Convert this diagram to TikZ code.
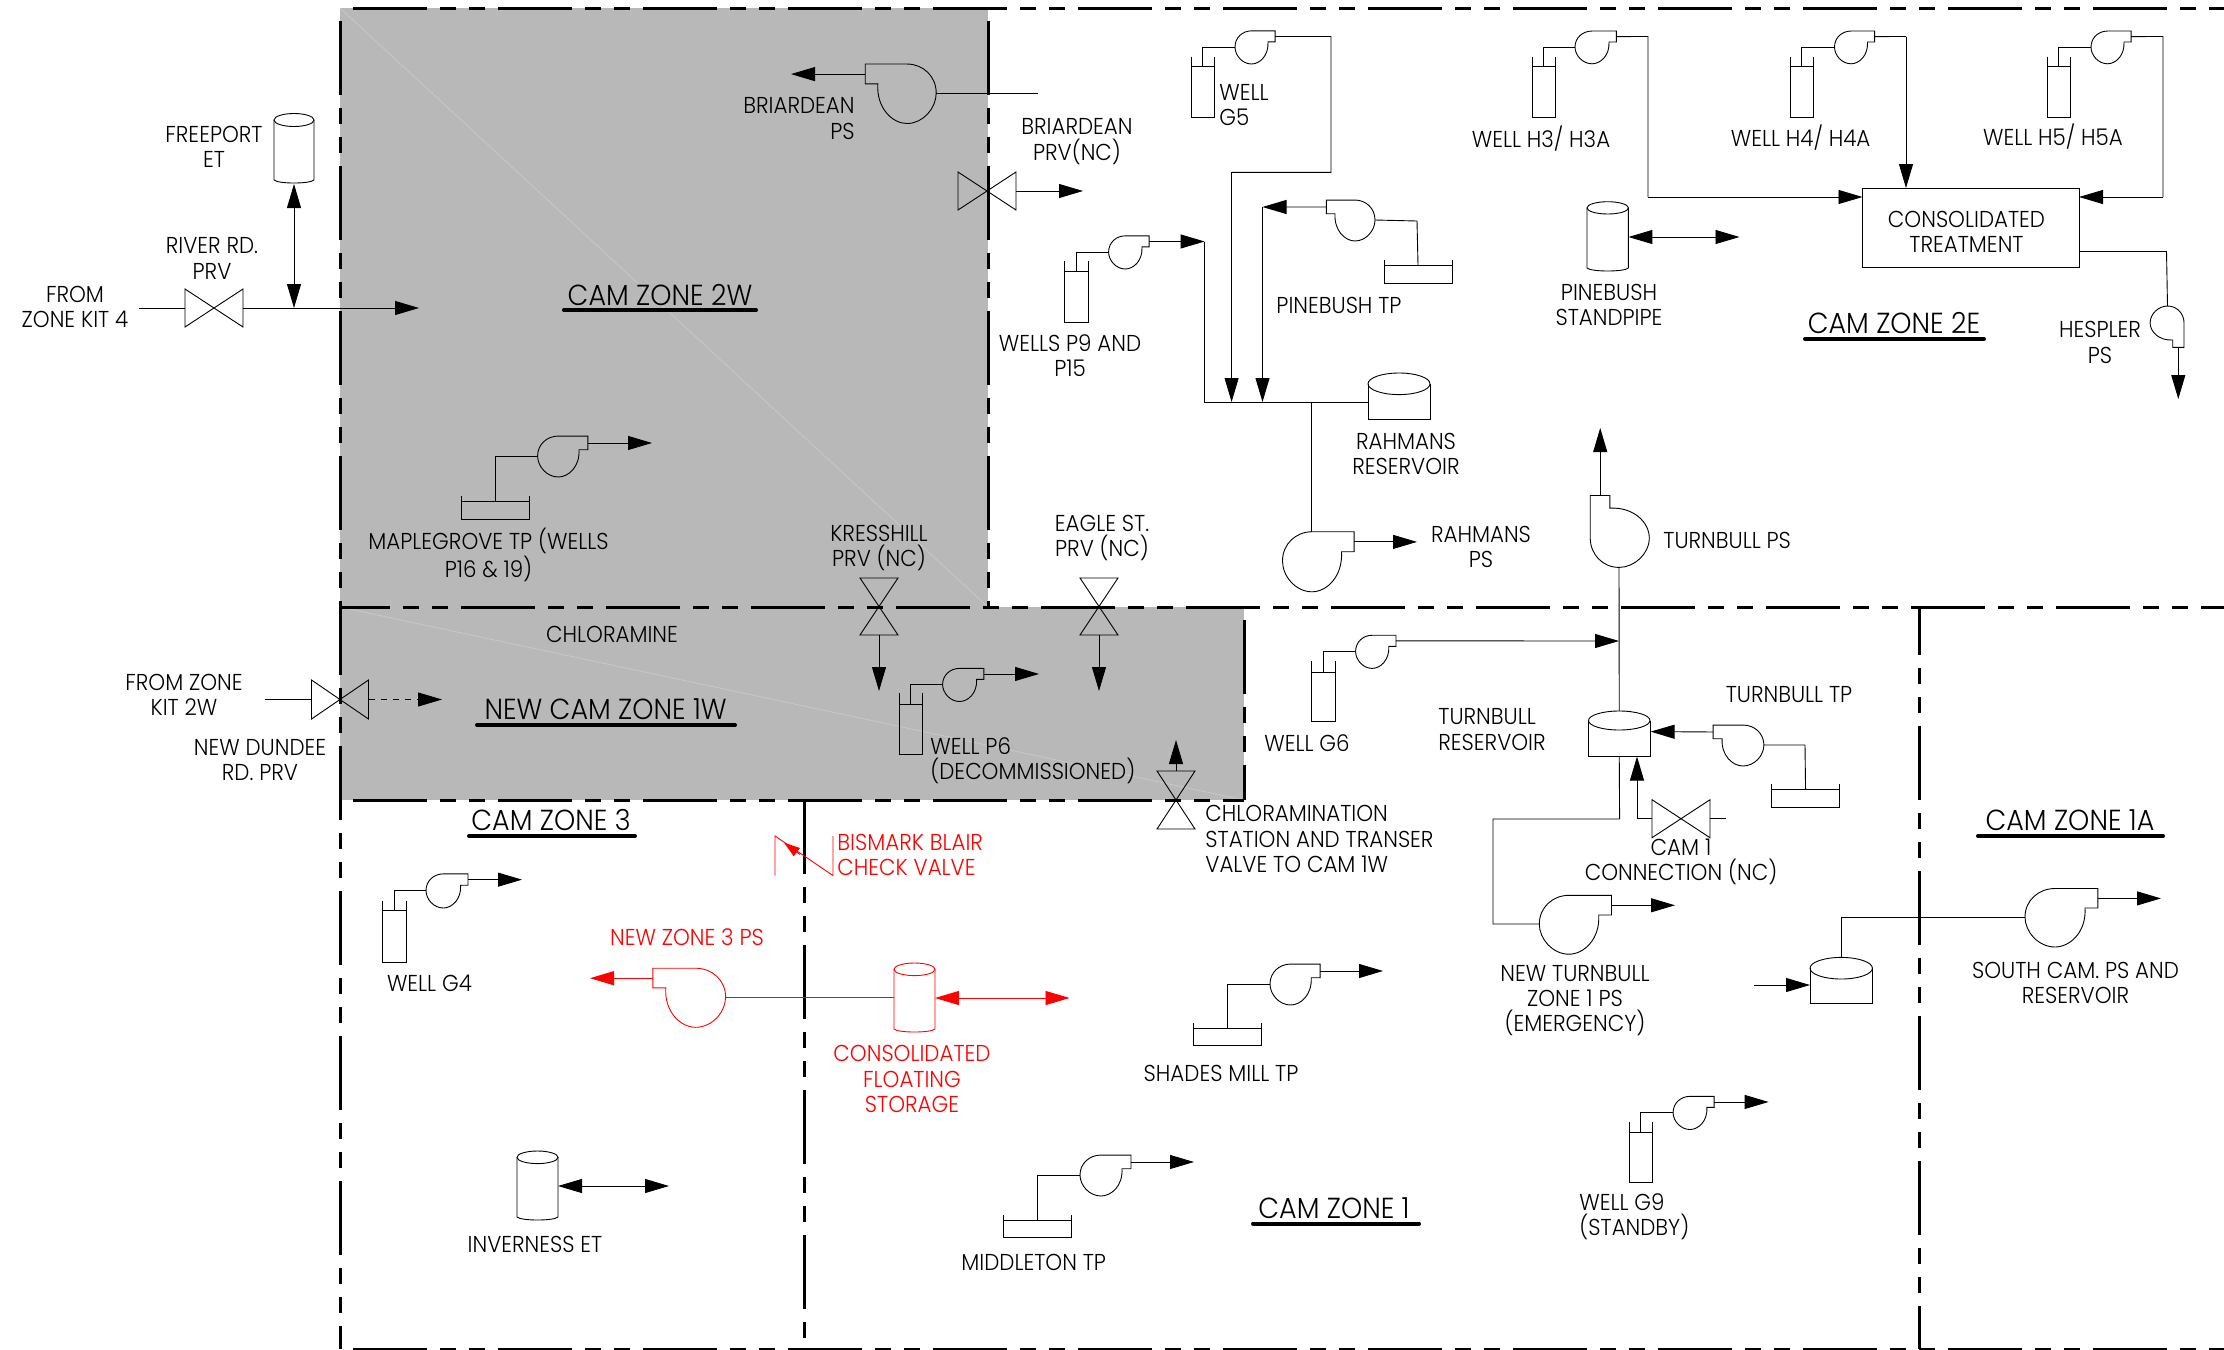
\documentclass[tikz,border=0pt]{standalone}
\usepackage{fontspec}
\setmainfont{Poppins}[UprightFont=* Light,FakeStretch=0.93]
\usetikzlibrary{arrows.meta,calc}
\definecolor{zonegray}{HTML}{B8B8B8}
\definecolor{diagray}{HTML}{C8C8C8}
\tikzset{
  pipe/.style={line width=.45pt,line join=miter},
  flow/.style={pipe,-{Triangle[length=12pt,width=7pt]}},
  dualflow/.style={pipe,{Triangle[length=12pt,width=7pt]}-{Triangle[length=12pt,width=7pt]}},
  zoneline/.style={line width=1.5pt,dash pattern=on 37pt off 6.5pt on 8pt off 6.5pt on 8pt off 6.5pt,dash phase=66pt},
  titlebar/.style={line width=2pt,line cap=round},
  lbl/.style={inner sep=0pt,align=center,font=\fontsize{11.5}{12.7}\selectfont},
  ttl/.style={inner sep=0pt,align=center,font=\fontsize{14.5}{16}\selectfont},
}
\newcommand\Pump[6]{\begin{scope}[shift={(#2,#3)},rotate=#4,xscale=#5,yscale=#6]
  \draw[pipe] (0,-.95) -- (1.43,-.95) -- (1.43,-.3) -- (1,-.3)
    .. controls (1.05,.5) and (.5,1) .. (0,1)
    .. controls (-.55,1) and (-1,.5) .. (-1,0)
    .. controls (-1,-.55) and (-.55,-.95) .. (0,-.95);
  \coordinate (#1-in) at (-1,0);
  \coordinate (#1-out) at (1.43,-.62);
  \coordinate (#1-top) at (0,-.95);
\end{scope}}
\newcommand\Out[2]{\coordinate (#1-x) at (#2,0);\draw[flow] (#1-out) -- (#1-out -| #1-x);}
\newcommand\Vessel[6]{%
  \draw[pipe] (#2,#4) -- (#2,#6) -- (#3,#6) -- (#3,#4);
  \draw[pipe] (#2,#5) -- (#3,#5);
  \coordinate (#1-w) at ({(#2+#3)/2},#5);}
\newcommand\Tank[7]{%
  \pgfmathsetmacro\tcx{(#2+#3)/2}\pgfmathsetmacro\tcy{(#4+#5)/2}%
  \pgfmathsetmacro\trx{(#3-#2)/2}\pgfmathsetmacro\try{(#5-#4)/2}%
  \draw[pipe] (\tcx,\tcy) ellipse [x radius=\trx,y radius=\try];
  \ifnum#7=1
    \draw[pipe] (#2,\tcy) -- (#2,#6-4) .. controls (#2+4,#6) and (#3-4,#6) .. (#3,#6-4) -- (#3,\tcy);
  \else
    \draw[pipe] (#2,\tcy) -- (#2,#6) -- (#3,#6) -- (#3,\tcy);
  \fi
  \coordinate (#1-top) at (\tcx,#4);
  \coordinate (#1-bot) at (\tcx,#6);
  \coordinate (#1-l) at (#2,\tcy);
  \coordinate (#1-r) at (#3,\tcy);}
\newcommand\Valve[6]{\begin{scope}[shift={(#2,#3)},rotate=#4]
  \draw[pipe] (-#5,-#6) -- (#5,#6) -- (#5,-#6) -- (-#5,#6) -- cycle;
  \coordinate (#1-w) at (-#5,0);
  \coordinate (#1-e) at (#5,0);
\end{scope}}
\newcommand\Title[6]{\node[ttl] (#1) at (#2,#3) {#4};
  \coordinate (#1-a) at (#5,#3+15.5);\coordinate (#1-b) at (#6,#3+15.5);
  \draw[titlebar] (#1-a) -- (#1-b);}
\begin{document}
\begin{tikzpicture}[x=.5pt,y=-.5pt]
\useasboundingbox (0,0) rectangle (2224,1350);
% shaded zones
\coordinate (tl) at (340,8);\coordinate (tm) at (988,8);\coordinate (tr) at (2224,8);
\coordinate (ml) at (340,607);\coordinate (mm) at (988,607);\coordinate (mk) at (1244,607);\coordinate (mr) at (2224,607);
\coordinate (ll) at (340,800);\coordinate (lk) at (1244,800);\coordinate (lz) at (804,800);
\coordinate (bl) at (340,1349);\coordinate (bz) at (804,1349);\coordinate (be) at (1919,1349);\coordinate (br) at (2224,1349);
\coordinate (me) at (1919,607);
\fill[zonegray] (tl) rectangle (mm);
\fill[zonegray] (ml) rectangle (lk);
\draw[diagray,line width=.4pt] (tl) -- (mm);
\draw[diagray,line width=.4pt] (ml) -- (lk);
% zone boundaries
\draw[zoneline] (tl) -- (tr);
\draw[zoneline,dash phase=12pt] (ml) -- (mr);
\draw[zoneline] (ll) -- (lk);
\draw[zoneline] (bl) -- (br);
\draw[zoneline] (tl) -- (bl);
\draw[zoneline] (tm) -- (mm);
\draw[zoneline] (mk) -- (lk);
\draw[zoneline,dash phase=0pt] (lz) -- (bz);
\draw[zoneline,dash phase=13pt] (me) -- (be);

% ---- River Rd / Freeport
\Valve{river}{214}{308}{0}{29}{19}
\coordinate (riverA) at (139,308);\coordinate (riverB) at (419,308);\coordinate (riverJ) at (294,308);
\draw[pipe] (riverA) -- (river-w);
\draw[flow] (river-e) -- (riverB);
\Tank{freeport}{274}{314}{113.5}{126.5}{184}{1}
\draw[dualflow] (freeport-bot) -- (riverJ);
\node[lbl] (lfrom4) at (75,307) {FROM\\ZONE KIT 4};
\node[lbl] (lriver) at (212,258.5) {RIVER RD.\\PRV};
\node[lbl] (lfree) at (214,147) {FREEPORT\\ET};
\Title{z2w}{660}{294.6}{CAM ZONE 2W}{564}{756}

% ---- Briardean
\Pump{brp}{907}{93}{0}{-29.2}{30.5}
\Out{brp}{791}
\coordinate (brEnd) at (1038,93);
\draw[pipe] (brp-in) -- (brEnd);
\node[lbl,anchor=east,align=right] (lbrp) at (855,118.5) {BRIARDEAN\\PS};
\Valve{brv}{987}{191}{0}{29}{19}
\coordinate (brvT) at (1083,191);
\draw[flow] (brv-e) -- (brvT);
\node[lbl] (lbrv) at (1077,141.5) {BRIARDEAN\\PRV(NC)};

% ---- Maplegrove
\Vessel{mapb}{461}{529}{495.5}{501}{519}
\Pump{mapp}{558.3}{456}{0}{20.7}{21}
\Out{mapp}{652}
\draw[pipe] (mapb-w) |- (mapp-in);
\node[lbl] (lmap) at (488.5,555) {MAPLEGROVE TP (WELLS\\P16 \& 19)};

% ---- Kresshill / Eagle
\Valve{kre}{879}{606.5}{90}{28.5}{19}
\coordinate (kreT) at (879,691);
\draw[flow] (kre-w) -- (kreT);
\node[lbl] (lkre) at (879,548) {KRESSHILL\\PRV (NC)};
\Valve{eag}{1099}{606.5}{90}{28.5}{19}
\coordinate (eagT) at (1099,691);
\draw[flow] (eag-w) -- (eagT);
\node[lbl] (leag) at (1102,538) {EAGLE ST.\\PRV (NC)};

% ---- Well G5
\Vessel{g5w}{1191}{1214}{56.5}{66}{117}
\Pump{g5p}{1251.5}{47}{0}{16.5}{17}
\draw[pipe] (g5w-w) |- (g5p-in);
\coordinate (g5a) at (1331,36.5);\coordinate (g5b) at (1331,172.4);\coordinate (g5c) at (1231.6,172.4);\coordinate (g5d) at (1231.6,402);
\draw[pipe] (g5p-out) -- (g5a) -- (g5b) -- (g5c);
\draw[flow] (g5c) -- (g5d);
\node[lbl,anchor=west,align=left] (lg5) at (1219,105) {WELL\\G5};

% ---- Pinebush TP
\Vessel{pinb}{1384}{1452}{260}{265}{283}
\Pump{pinp}{1355}{220}{0}{-20}{21}
\coordinate (pinc) at (1417,221);
\draw[pipe] (pinb-w) -- (pinc) -- (pinp-in);
\coordinate (pina) at (1262.5,207);\coordinate (pind) at (1262.5,402);
\draw[flow] (pinp-out) -- (pina);
\draw[flow] (pina) -- (pind);
\node[lbl] (lpin) at (1339,305) {PINEBUSH TP};

% ---- Wells P9
\Vessel{p9w}{1064}{1088}{261}{271}{322}
\Pump{p9p}{1125.3}{252}{0}{16.7}{17}
\draw[pipe] (p9w-w) |- (p9p-in);
\coordinate (p9a) at (1204.6,241.5);\coordinate (p9b) at (1204.6,402);
\draw[flow] (p9p-out) -- (p9a);
\node[lbl] (lp9) at (1070,355.5) {WELLS P9 AND\\P15};

% ---- Rahmans
\Tank{rah}{1368}{1430}{373}{394.6}{419}{0}
\coordinate (rahJ) at (1368,402);\coordinate (rahK) at (1311,402);
\draw[pipe] (p9a) -- (p9b) -- (rahJ);
\Pump{rap}{1312}{561}{0}{29.5}{30.8}
\Out{rap}{1417}
\draw[pipe] (rahK) -- (rahK |- rap-top);
\node[lbl] (lrah) at (1406,454) {RAHMANS\\RESERVOIR};
\node[lbl] (lrap) at (1481,547) {RAHMANS\\PS};

% ---- H wells
\Vessel{h3w}{1532}{1555}{56.5}{66}{117}
\Pump{h3p}{1592}{47}{0}{17}{16.8}
\draw[pipe] (h3w-w) |- (h3p-in);
\node[lbl] (lh3) at (1541,139) {WELL H3/ H3A};
\Vessel{h4w}{1790}{1813}{56.5}{66}{117}
\Pump{h4p}{1851}{47}{0}{16.5}{16.8}
\draw[pipe] (h4w-w) |- (h4p-in);
\node[lbl] (lh4) at (1800.6,138) {WELL H4/ H4A};
\Vessel{h5w}{2047}{2070}{56.5}{66}{117}
\Pump{h5p}{2107.5}{47}{0}{16.5}{16.8}
\draw[pipe] (h5w-w) |- (h5p-in);
\node[lbl] (lh5) at (2053,137) {WELL H5/ H5A};
\node[draw,line width=.45pt,minimum width=108.25pt,minimum height=39.5pt,inner sep=0pt] (cons) at (1970.75,227.5) {};
\node[lbl] (lcons) at (1966.5,232) {CONSOLIDATED\\TREATMENT};
\coordinate (h3a) at (1648,36.5);\coordinate (h3b) at (1648,197);\coordinate (h3c) at (1862.5,197);
\draw[pipe] (h3p-out) -- (h3a) -- (h3b);
\draw[flow] (h3b) -- (h3c);
\coordinate (h4a) at (1906,36.5);\coordinate (h4b) at (1906,188);
\draw[pipe] (h4p-out) -- (h4a);
\draw[flow] (h4a) -- (h4b);
\coordinate (h5a) at (2163,36.5);\coordinate (h5b) at (2163,197);\coordinate (h5c) at (2079,197);
\draw[pipe] (h5p-out) -- (h5a) -- (h5b);
\draw[flow] (h5b) -- (h5c);

% ---- Hespler
\Pump{hes}{2167.5}{323}{-90}{17}{17.4}
\coordinate (hesA) at (2079,251.5);\coordinate (hesB) at (2166.5,251.5);\coordinate (hesT) at (2178,399);
\draw[pipe] (hesA) -- (hesB) -- (hes-in);
\draw[flow] (hes-out) -- (hes-out |- hesT);
\node[lbl] (lhes) at (2100,342.5) {HESPLER\\PS};
\Title{z2e}{1894}{323.5}{CAM ZONE 2E}{1805}{1984}

% ---- Pinebush standpipe
\Tank{pst}{1587}{1628.4}{201.7}{214}{272}{1}
\coordinate (pstA) at (1628.4,237);\coordinate (pstB) at (1739.5,237);
\draw[dualflow] (pstA) -- (pstB);
\node[lbl] (lpst) at (1609,305) {PINEBUSH\\STANDPIPE};

% ---- Turnbull
\Pump{tup}{1619}{537.8}{90}{29.6}{30.3}
\coordinate (tupT) at (1600,428);
\draw[flow] (tup-out) -- (tup-out |- tupT);
\node[lbl,anchor=west] (ltup) at (1663,540) {TURNBULL PS};
\Tank{tur}{1588.5}{1650}{711}{730}{756.5}{0}
\draw[pipe] (tup-in) -- (tur-top);
\node[lbl,anchor=west,align=left] (ltur) at (1438,729.5) {TURNBULL\\RESERVOIR};
\Vessel{g6w}{1311.5}{1335}{661}{672}{721.5}
\Pump{g6p}{1372.2}{651.4}{0}{16.6}{17}
\draw[pipe] (g6w-w) |- (g6p-in);
\coordinate (g6T) at (1619,641);
\draw[flow] (g6p-out) -- (g6T);
\node[lbl] (lg6) at (1307,743.5) {WELL G6};
\node[lbl] (lttp) at (1789,695) {TURNBULL TP};
\Vessel{ttb}{1771.7}{1839.4}{783.7}{789.5}{807}
\Pump{ttp}{1743}{745}{0}{-20.9}{21}
\coordinate (ttA) at (1805,745);\coordinate (ttT) at (1650.6,731.6);
\draw[pipe] (ttb-w) -- (ttA) -- (ttp-in);
\draw[flow] (ttp-out) -- (ttT);
\Valve{c1v}{1681}{818.7}{0}{29}{19}
\coordinate (c1A) at (1725.8,818.7);\coordinate (c1B) at (1637,818.7);\coordinate (c1T) at (1637,756.5);
\draw[pipe] (c1v-e) -- (c1A);
\draw[pipe] (c1v-w) -- (c1B);
\draw[flow] (c1B) -- (c1T);
\node[lbl] (lc1) at (1681,862) {CAM 1\\CONNECTION (NC)};
\Pump{ntp}{1569}{924}{0}{29.7}{30.2}
\Out{ntp}{1675}
\coordinate (ntA) at (1619.6,819);\coordinate (ntB) at (1493,819);\coordinate (ntC) at (1493,924);
\draw[pipe] (tur-bot) -- (ntA) -- (ntB) -- (ntC) -- (ntp-in);
\node[lbl] (lntp) at (1575,1000.5) {NEW TURNBULL\\ZONE 1 PS\\(EMERGENCY)};

% ---- New Dundee
\Valve{ndv}{340}{699.5}{0}{28.5}{19.5}
\coordinate (ndA) at (265,699.5);\coordinate (ndT) at (442,699.5);
\draw[pipe] (ndA) -- (ndv-w);
\draw[pipe,dashed,-{Triangle[length=12pt,width=7pt]}] (ndv-e) -- (ndT);
\node[lbl] (lnda) at (184,695) {FROM ZONE\\KIT 2W};
\node[lbl] (lndb) at (260,760) {NEW DUNDEE\\RD. PRV};
\node[lbl] (lchl) at (612,634) {CHLORAMINE};
\Title{z1w}{605.6}{709.5}{NEW CAM ZONE 1W}{477}{735}

% ---- Well P6
\Vessel{p6w}{899}{922}{693}{704}{754.5}
\Pump{p6p}{959.6}{684.5}{0}{17}{17}
\draw[pipe] (p6w-w) |- (p6p-in);
\Out{p6p}{1039}
\node[lbl,anchor=west,align=left] (lp6) at (930,761) {WELL P6\\(DECOMMISSIONED)};

% ---- Chloramination valve
\Valve{clv}{1176}{800}{90}{29}{19}
\coordinate (clT) at (1176,740);
\draw[flow] (clv-e) -- (clT);
\node[lbl,anchor=west,align=left] (lcl) at (1205,839) {CHLORAMINATION\\STATION AND TRANSER\\VALVE TO CAM 1W};

% ---- Zone 3
\Title{z3}{551}{820.5}{CAM ZONE 3}{469}{635}
\Vessel{g4w}{382}{406}{900.5}{910}{962}
\Pump{g4p}{443.3}{890.5}{0}{17.3}{17.5}
\draw[pipe] (g4w-w) |- (g4p-in);
\Out{g4p}{522}
\node[lbl] (lg4) at (429.5,983) {WELL G4};
\Tank{inv}{517}{558}{1151}{1163.6}{1221}{1}
\coordinate (invA) at (558,1186);\coordinate (invB) at (669,1186);
\draw[dualflow] (invA) -- (invB);
\node[lbl] (linv) at (535,1244.5) {INVERNESS ET};

% ---- Red new works
\begin{scope}[red]
\coordinate (ckA) at (775,875.6);\coordinate (ckB) at (775,836);\coordinate (ckC) at (833,875.6);\coordinate (ckD) at (833,836);
\coordinate (ckM) at (800,854.5);\coordinate (ckT) at (784,842.6);
\draw[pipe] (ckA) -- (ckB) -- (ckC) -- (ckD);
\draw[pipe,-{Triangle[length=8pt,width=5pt]}] (ckM) -- (ckT);
\node[lbl,anchor=west,align=left,text=red] (lck) at (837,855) {BISMARK BLAIR\\CHECK VALVE};
\node[lbl,text=red] (lnz) at (687,937) {NEW ZONE 3 PS};
\Pump{nzp}{695.7}{997}{0}{-29.9}{30.3}
\Out{nzp}{590}
\Tank{cfs}{894}{935}{963}{975.6}{1033}{1}
\coordinate (cfsA) at (894,997);\coordinate (cfsB) at (935,998);\coordinate (cfsC) at (1069.5,998);
\draw[pipe] (nzp-in) -- (cfsA);
\draw[dualflow] (cfsB) -- (cfsC);
\node[lbl,text=red] (lcfs) at (912,1079) {CONSOLIDATED\\FLOATING\\STORAGE};
\end{scope}

% ---- Shades Mill / Middleton
\Vessel{shb}{1193.7}{1261.7}{1023}{1028.7}{1045.5}
\Pump{shp}{1290.6}{984}{0}{20.6}{21}
\draw[pipe] (shb-w) |- (shp-in);
\Out{shp}{1383}
\node[lbl] (lsh) at (1221,1073.7) {SHADES MILL TP};
\Vessel{mib}{1003.5}{1071.6}{1215}{1220}{1237}
\Pump{mip}{1101}{1175}{0}{21}{21}
\draw[pipe] (mib-w) |- (mip-in);
\Out{mip}{1194}
\node[lbl] (lmi) at (1033.7,1262.7) {MIDDLETON TP};
\Title{z1}{1334}{1208}{CAM ZONE 1}{1253}{1419}

% ---- Well G9
\Vessel{g9w}{1629}{1652.5}{1121.5}{1132}{1182.8}
\Pump{g9p}{1690}{1112.5}{0}{16.9}{17}
\draw[pipe] (g9w-w) |- (g9p-in);
\Out{g9p}{1768.6}
\node[lbl,anchor=west,align=left] (lg9) at (1579,1217) {WELL G9\\(STANDBY)};

% ---- South Cam
\Title{z1a}{2070}{820.5}{CAM ZONE 1A}{1978}{2163}
\Tank{sct}{1810}{1872.4}{957.4}{979}{1003}{0}
\coordinate (scA) at (1754,985);\coordinate (scB) at (1810,985);
\draw[flow] (scA) -- (scB);
\Pump{scp}{2055}{917}{0}{30}{30}
\Out{scp}{2161}
\draw[pipe] (sct-top) |- (scp-in);
\node[lbl] (lsc) at (2075.5,983) {SOUTH CAM. PS AND\\RESERVOIR};
\end{tikzpicture}
\end{document}
